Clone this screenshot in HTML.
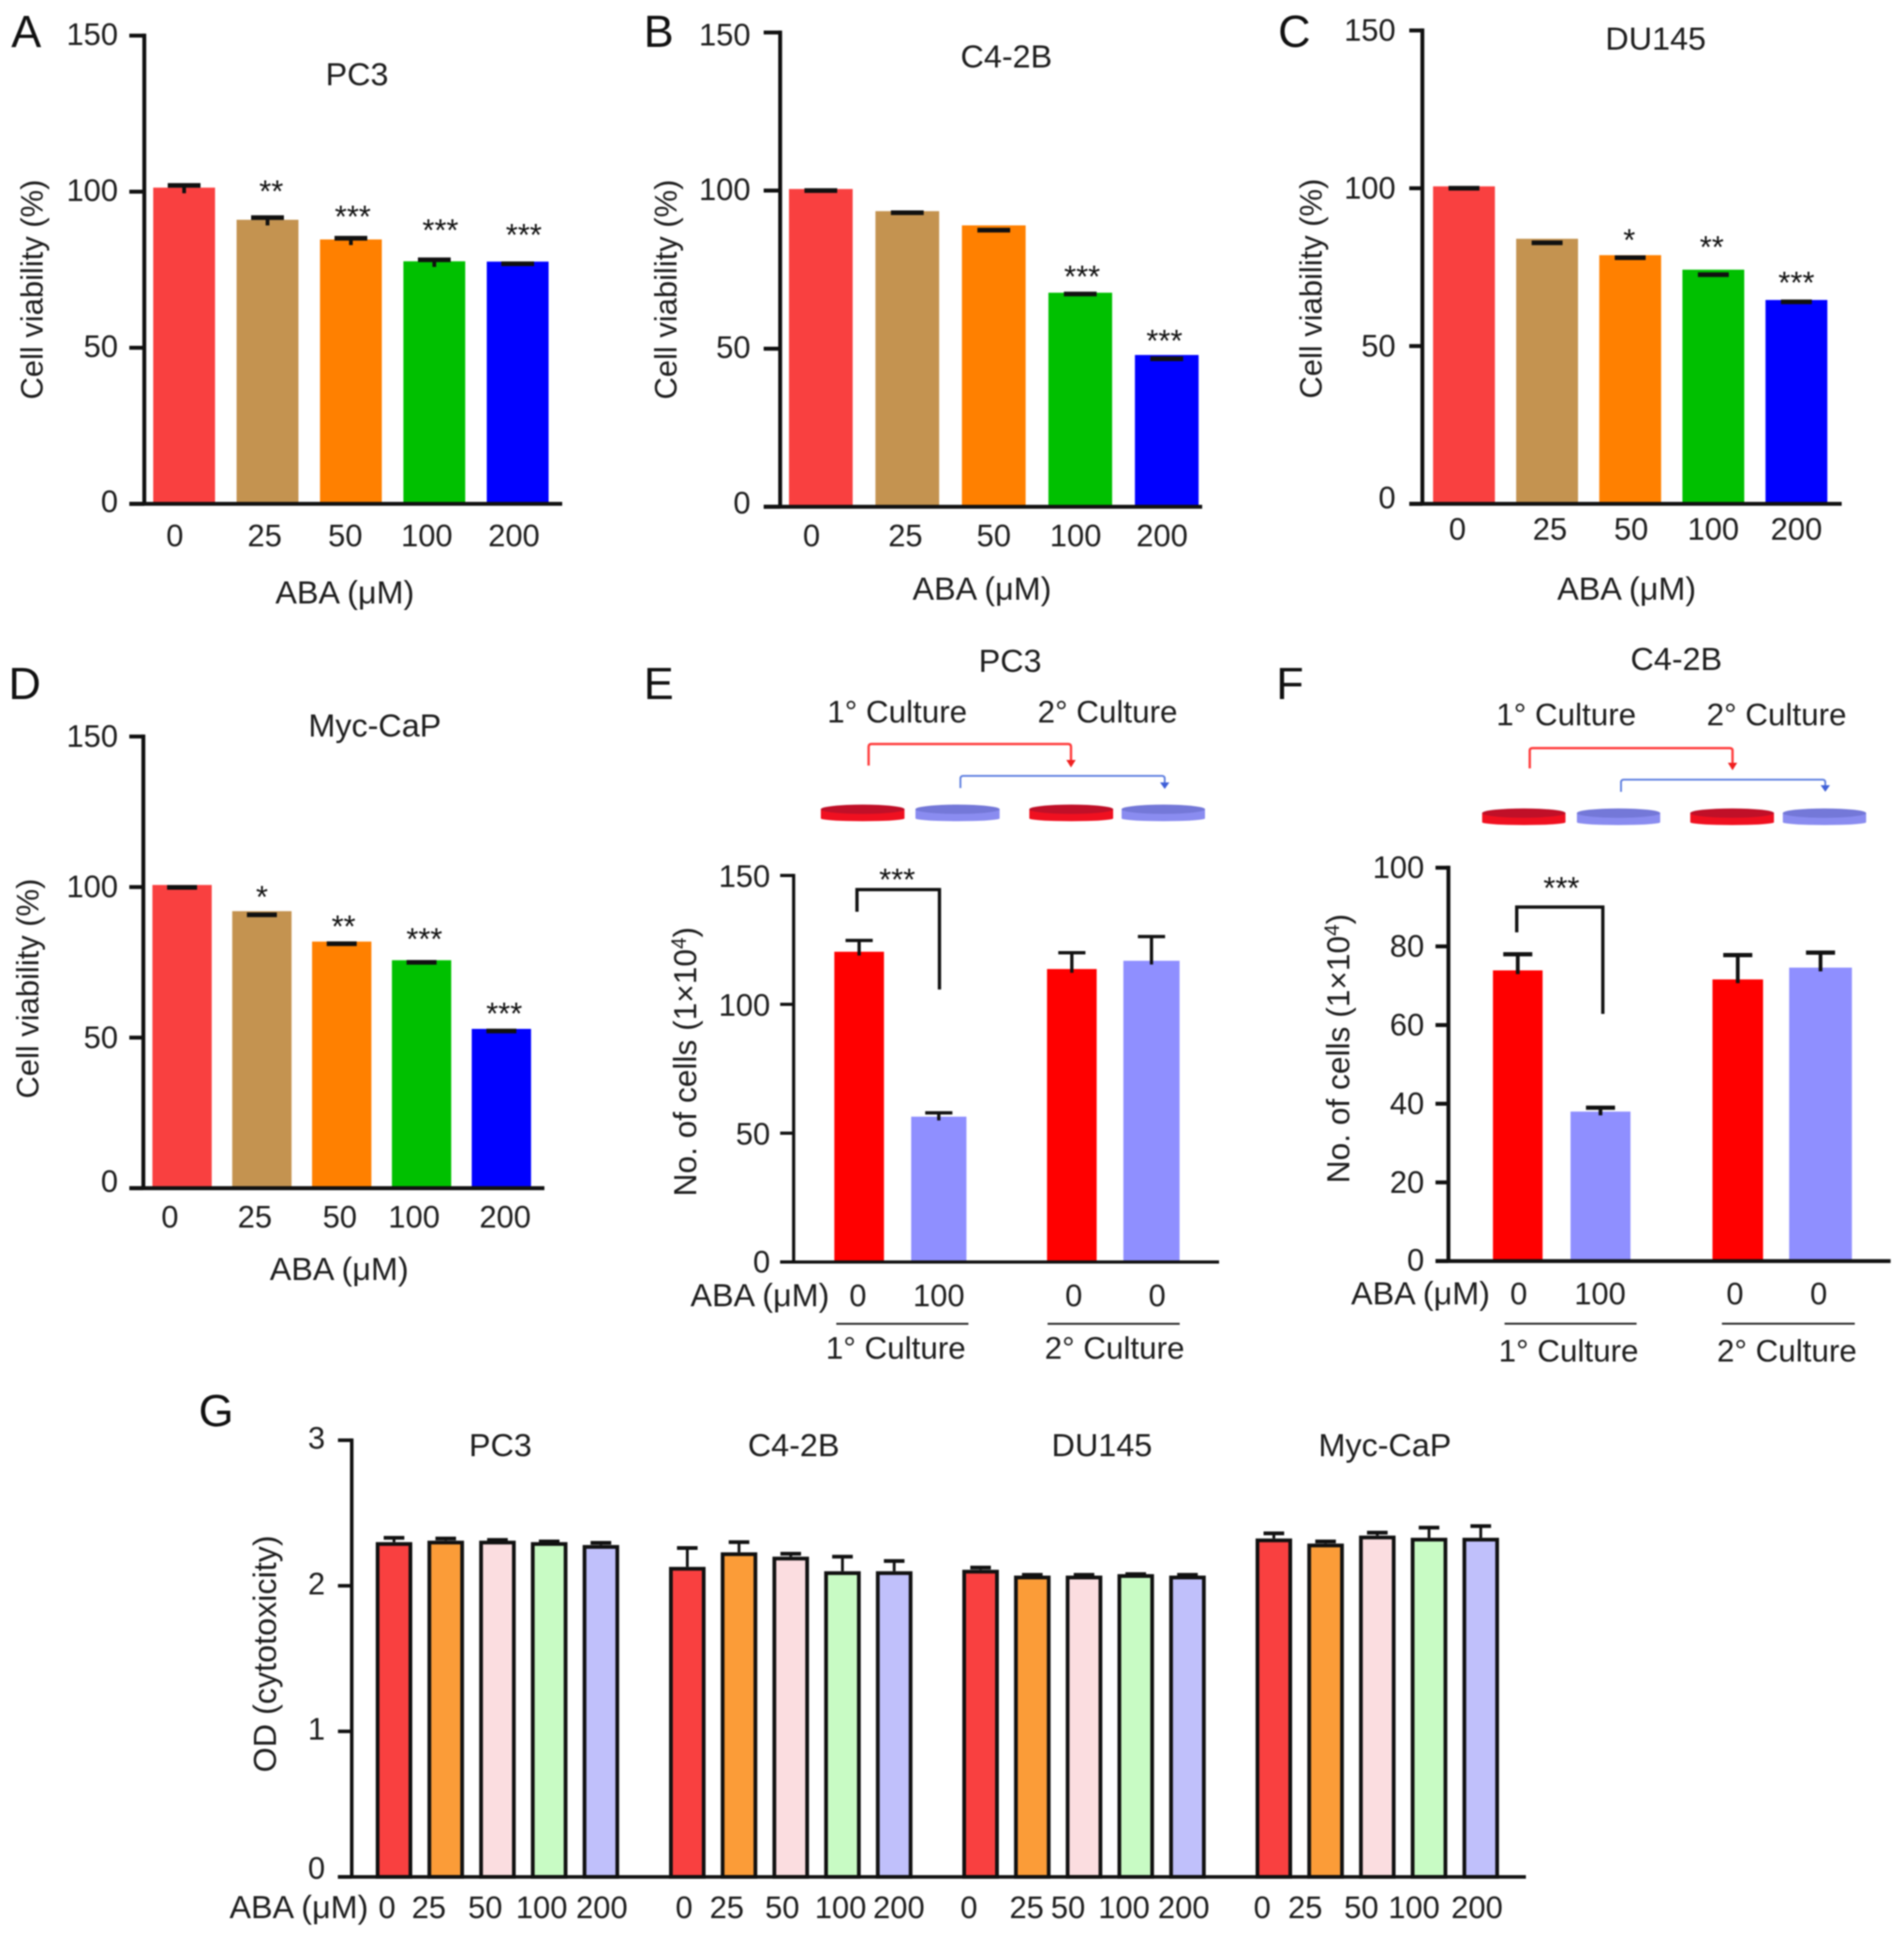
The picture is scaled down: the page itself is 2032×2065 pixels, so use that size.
<!DOCTYPE html>
<html lang="en">
<head>
<meta charset="utf-8">
<title>ABA cell viability figure</title>
<style>
  html, body { margin: 0; padding: 0; background: #fff; }
  svg { display: block; filter: blur(0.7px); }
  text { font-family: "Liberation Sans", Arial, sans-serif; font-size: 33px; fill: #1e1e1e; }
  .letter { font-size: 48px; fill: #111; }
  .mid { text-anchor: middle; }
  .title { font-size: 34.5px; }
  .abal { font-size: 34.5px; }
  .culture { font-size: 33.5px; }
  .ytitle { font-size: 33px; }
  .ytitle-wide { font-size: 33.8px; }
  .star { font-size: 33px; text-anchor: middle; fill: #111; }
</style>
</head>
<body>
<svg id="figure" width="2032" height="2065" viewBox="0 0 2032 2065" xmlns="http://www.w3.org/2000/svg">
  <rect x="0" y="0" width="2032" height="2065" fill="#fff"/>

  <!-- Panel A -->
  <text class="letter" x="12" y="50">A</text>
  <text class="mid title" x="381" y="91">PC3</text>
  <text class="mid ytitle" transform="translate(45.5 309) rotate(-90)">Cell viability (%)</text>
  <text class="mid abal" x="368" y="644">ABA (μM)</text>
  <g id="panel-a"></g>

  <!-- Panel B -->
  <text class="letter" x="687" y="50">B</text>
  <text class="mid title" x="1074" y="72">C4-2B</text>
  <text class="mid ytitle" transform="translate(722 309) rotate(-90)">Cell viability (%)</text>
  <text class="mid abal" x="1048" y="640">ABA (μM)</text>
  <g id="panel-b"></g>

  <!-- Panel C -->
  <text class="letter" x="1364" y="50">C</text>
  <text class="mid title" x="1767" y="53">DU145</text>
  <text class="mid ytitle" transform="translate(1410.5 308) rotate(-90)">Cell viability (%)</text>
  <text class="mid abal" x="1736" y="640">ABA (μM)</text>
  <g id="panel-c"></g>

  <!-- Panel D -->
  <text class="letter" x="9" y="746">D</text>
  <text class="mid title" x="400" y="786">Myc-CaP</text>
  <text class="mid ytitle" transform="translate(41 1055) rotate(-90)">Cell viability (%)</text>
  <text class="mid abal" x="362" y="1366">ABA (μM)</text>
  <g id="panel-d"></g>

  <!-- Panel E -->
  <text class="letter" x="687" y="746">E</text>
  <text class="mid title" x="1078" y="717">PC3</text>
  <text class="mid culture" x="957.5" y="771">1° Culture</text>
  <text class="mid culture" x="1182" y="771">2° Culture</text>
  <path d="M927 817V797Q927 794 930 794H1140Q1143 794 1143 797V812" fill="none" stroke="#ff3b3b" stroke-width="2.5"/>
  <path d="M1138 811H1148L1143 819Z" fill="#f02020"/>
  <path d="M1025 841V831Q1025 828 1028 828H1240Q1243 828 1243 831V836" fill="none" stroke="#6080e0" stroke-width="2"/>
  <path d="M1238 835H1248L1243 842Z" fill="#4060d8"/>
  <g id="panel-e-dishes"></g>
  <text class="mid ytitle-wide" transform="translate(743 1133) rotate(-90)">No. of cells (1×10<tspan dy="-11" font-size="22">4</tspan><tspan dy="11">)</tspan></text>
  <text class="mid abal" x="811" y="1394">ABA (μM)</text>
  <line x1="892.5" x2="1033.5" y1="1412.7" y2="1412.7" stroke="#222" stroke-width="2"/>
  <line x1="1118" x2="1259" y1="1412.7" y2="1412.7" stroke="#222" stroke-width="2"/>
  <text class="mid culture" x="956" y="1450">1° Culture</text>
  <text class="mid culture" x="1189.5" y="1450">2° Culture</text>
  <path d="M914.6 973V949.4H1002.6V1056" fill="none" stroke="#111" stroke-width="3.5"/>
  <text class="star" x="957.5" y="950">***</text>
  <g id="panel-e"></g>

  <!-- Panel F -->
  <text class="letter" x="1362" y="746">F</text>
  <text class="mid title" x="1789" y="715">C4-2B</text>
  <text class="mid culture" x="1671.5" y="774">1° Culture</text>
  <text class="mid culture" x="1896" y="774">2° Culture</text>
  <path d="M1632.6 820V801Q1632.6 798.4 1635.6 798.4H1846Q1849 798.4 1849 801V815" fill="none" stroke="#ff3b3b" stroke-width="2.5"/>
  <path d="M1844 814H1854L1849 822Z" fill="#f02020"/>
  <path d="M1730 845V835Q1730 832 1733 832H1945Q1948 832 1948 835V839" fill="none" stroke="#6080e0" stroke-width="2"/>
  <path d="M1943 838H1953L1948 845Z" fill="#4060d8"/>
  <g id="panel-f-dishes"></g>
  <text class="mid ytitle-wide" transform="translate(1440 1119) rotate(-90)">No. of cells (1×10<tspan dy="-11" font-size="22">4</tspan><tspan dy="11">)</tspan></text>
  <text class="mid abal" x="1516" y="1392">ABA (μM)</text>
  <line x1="1605.7" x2="1746.6" y1="1412.6" y2="1412.6" stroke="#222" stroke-width="2"/>
  <line x1="1837.7" x2="1979.5" y1="1412.6" y2="1412.6" stroke="#222" stroke-width="2"/>
  <text class="mid culture" x="1674" y="1453">1° Culture</text>
  <text class="mid culture" x="1907" y="1453">2° Culture</text>
  <path d="M1618.7 995V968H1710.6V1082" fill="none" stroke="#111" stroke-width="3.5"/>
  <text class="star" x="1666.4" y="959">***</text>
  <g id="panel-f"></g>

  <!-- Panel G -->
  <text class="letter" x="212" y="1522">G</text>
  <text class="mid title" x="534" y="1554">PC3</text>
  <text class="mid title" x="847" y="1554">C4-2B</text>
  <text class="mid title" x="1176" y="1554">DU145</text>
  <text class="mid title" x="1478" y="1554">Myc-CaP</text>
  <text class="mid ytitle-wide" style="font-size:34.5px" transform="translate(294.5 1765) rotate(-90)">OD (cytotoxicity)</text>
  <text class="mid abal" x="319" y="2047">ABA (μM)</text>
  <g id="panel-g"></g>
</svg>

<script>
// ---------- Chart data ----------
const doseLabels = ['0', '25', '50', '100', '200'];
const viabilityTicks = [0, 50, 100, 150];

const panelAValues = [101.3, 91, 84.7, 77.7, 77.6];
const panelACaps = [102, 91.7, 85.1, 78.2, 76.9];
const panelAStars = ['', '**', '***', '***', '***'];

const panelBValues = [100.5, 93.5, 89, 67.7, 48];
const panelBCaps = [100, 93, 87.5, 67.3, 46.8];
const panelBStars = ['', '', '', '***', '***'];

const panelCValues = [100.6, 84, 78.8, 74.2, 64.6];
const panelCCaps = [100, 82.7, 78, 72.6, 64];
const panelCStars = ['', '', '*', '**', '***'];

const panelDValues = [100.7, 92, 81.9, 75.7, 52.9];
const panelDCaps = [99.9, 90.8, 81.2, 75, 52.2];
const panelDStars = ['', '*', '**', '***', '***'];

const cultureLabels = ['0', '100', '0', '0'];
const panelETicks = [0, 50, 100, 150];
const panelEValues = [120.4, 56.4, 113.7, 116.9];
const panelECaps = [124.8, 57.9, 120, 126.3];

const panelFTicks = [0, 20, 40, 60, 80, 100];
const panelFValues = [73.9, 38, 71.6, 74.6];
const panelFCaps = [78, 39, 77.8, 78.4];

const panelGTicks = [0, 1, 2, 3];
const panelGCategories = ['0', '25', '50', '100', '200', '0', '25', '50', '100', '200', '0', '25', '50', '100', '200', '0', '25', '50', '100', '200'];
const panelGValues = [2.30, 2.31, 2.31, 2.30, 2.28, 2.13, 2.23, 2.20, 2.10, 2.10, 2.11, 2.07, 2.07, 2.08, 2.07, 2.325, 2.29, 2.345, 2.33, 2.33];
const panelGCaps = [2.33, 2.325, 2.315, 2.305, 2.295, 2.26, 2.30, 2.22, 2.20, 2.17, 2.125, 2.075, 2.075, 2.08, 2.075, 2.36, 2.305, 2.365, 2.40, 2.41];

// ---------- Styles and layout ----------
const viabilityColors = ['#f94040', '#c49350', '#ff8000', '#00c000', '#0000ff'];
const cultureColors = ['#ff0000', '#8f8fff', '#ff0000', '#8f8fff'];
const cytotoxColors = ['#f94040', '#fb9c38', '#fbdde0', '#c8fbc4', '#c0c0fb'];

const SVG_NS = 'http://www.w3.org/2000/svg';

function shape(tag, parent, attrs) {
  const node = document.createElementNS(SVG_NS, tag);
  Object.keys(attrs).forEach(function (k) { node.setAttribute(k, attrs[k]); });
  parent.appendChild(node);
  return node;
}

function makeYScale(cfg) {
  return function (v) { return cfg.y0 - v * (cfg.y0 - cfg.yTop) / cfg.yMax; };
}
function makeXScale(cfg) {
  return function (i) {
    const groupIndex = cfg.groupSize ? Math.floor(i / cfg.groupSize) : 0;
    return cfg.first + i * cfg.step + groupIndex * (cfg.groupGap || 0);
  };
}

function drawChart(id, cfg, cats, values, caps, ticks, stars) {
  const root = document.getElementById(id);
  const y = makeYScale(cfg);
  const x = makeXScale(cfg);

  values.forEach(function (v, i) {
    const w = cfg.barWidths ? cfg.barWidths[i] : cfg.barWidth;
    const cx = x(i);
    const color = cfg.colors[i % cfg.colors.length];
    const inset = cfg.outline ? cfg.outline / 2 : 0;
    const capY = y(caps[i]);
    const bar = shape('rect', root, {
      x: cx - w / 2 + inset, y: y(v) + inset, width: w - inset * 2, height: cfg.y0 - y(v) - inset,
      fill: color, stroke: cfg.outline ? '#111' : 'none', 'stroke-width': cfg.outline || 0
    });
    
    
    if (caps[i] > v) {
      const stem = shape('line', root, { x1: cx, x2: cx, y1: capY, y2: y(v) + (cfg.stemExtra || 0), stroke: '#111', 'stroke-width': cfg.stemWidth || 3 });
      
      
    }
    const cap = shape('line', root, { x1: cx - cfg.capWidth / 2, x2: cx + cfg.capWidth / 2, y1: capY, y2: capY, stroke: '#111', 'stroke-width': cfg.capStroke });
    
    

    if (stars && stars[i]) {
      const star = shape('text', root, { class: 'star', x: cx + cfg.starDx[i], y: y(v) - cfg.starGap[i] + 17 });
      
      
      star.textContent = stars[i];
    }

    const label = shape('text', root, { class: 'mid', x: cx + cfg.labelDx[i], y: cfg.labelY });
    
    
    label.textContent = cats[i];
  });

  ticks.forEach(function (t, k) {
    const mark = shape('line', root, { x1: cfg.tickLeft, x2: cfg.axisX, y1: y(t), y2: y(t), stroke: '#111', 'stroke-width': cfg.axisWidth });
    
    
    const isTop = k === ticks.length - 1;
    const dy = t === 0 ? cfg.zeroDy : (isTop && cfg.topDy ? cfg.topDy : cfg.tickDy);
    const label = shape('text', root, { x: cfg.tickRight, y: y(t) + dy, 'text-anchor': 'end' });
    
    
    label.textContent = t;
  });

  const yAxis = shape('line', root, { x1: cfg.axisX, x2: cfg.axisX, y1: cfg.yTop - cfg.axisWidth / 2, y2: cfg.y0, stroke: '#111', 'stroke-width': cfg.axisWidth });
  
  
  const xAxis = shape('line', root, { x1: cfg.tickLeft, x2: cfg.xEnd, y1: cfg.y0, y2: cfg.y0, stroke: '#111', 'stroke-width': cfg.axisWidth });
  
  
}

function drawDish(parent, left, right, top, bottom, side, face) {
  const g = shape('g', parent, {});
  
  
  const cx = (left + right) / 2, rx = (right - left) / 2;
  shape('ellipse', g, { cx: cx, cy: bottom - 3, rx: rx, ry: 3, fill: side });
  shape('rect', g, { x: left, y: top + 5, width: right - left, height: bottom - top - 8, fill: side });
  shape('ellipse', g, { cx: cx, cy: top + 5, rx: rx, ry: 5, fill: face });
}

drawChart('panel-a', {
  y0: 537.7, yTop: 38, yMax: 150, axisX: 154, tickLeft: 138, xEnd: 600, axisWidth: 4.2,
  first: 196.5, step: 89, barWidth: 66, colors: viabilityColors,
  capWidth: 35, capStroke: 5, stemWidth: 4, stemExtra: 6,
  tickRight: 126, tickDy: 10, zeroDy: 9, labelY: 583,
  labelDx: [-10, -3, -6, -8, -4], starDx: [0, 4, 2, 6.5, 6.5], starGap: [0, 36, 30, 39, 34]
}, doseLabels, panelAValues, panelACaps, viabilityTicks, panelAStars);

drawChart('panel-b', {
  y0: 540.8, yTop: 34.7, yMax: 150, axisX: 832.6, tickLeft: 815, xEnd: 1283, axisWidth: 4.2,
  first: 876, step: 92.3, barWidth: 68, colors: viabilityColors,
  capWidth: 35, capStroke: 5, stemWidth: 3,
  tickRight: 801, tickDy: 10, topDy: 14, zeroDy: 7, labelY: 583,
  labelDx: [-10, -2, 0, -5, -5], starDx: [0, 0, 0, 2, -2.5], starGap: [0, 0, 0, 23, 21]
}, doseLabels, panelBValues, panelBCaps, viabilityTicks, panelBStars);

drawChart('panel-c', {
  y0: 537.7, yTop: 32.5, yMax: 150, axisX: 1518, tickLeft: 1504, xEnd: 1965.5, axisWidth: 4.2,
  first: 1562.4, step: 88.7, barWidth: 66, colors: viabilityColors,
  capWidth: 33, capStroke: 5, stemWidth: 3,
  tickRight: 1489.5, tickDy: 11, zeroDy: 5, labelY: 576,
  labelDx: [-7, 3, 1, 0, 0], starDx: [0, 0, -1, -1.6, 0], starGap: [0, 0, 22, 30, 24]
}, doseLabels, panelCValues, panelCCaps, viabilityTicks, panelCStars);

drawChart('panel-d', {
  y0: 1268, yTop: 786, yMax: 150, axisX: 153, tickLeft: 138, xEnd: 581, axisWidth: 4.2,
  first: 194.3, step: 85.2, barWidth: 63.3, colors: viabilityColors,
  capWidth: 32, capStroke: 5, stemWidth: 3,
  tickRight: 126, tickDy: 11, zeroDy: 4, labelY: 1310,
  labelDx: [-13, -7.5, -2, -8, 4], starDx: [0, 0, 2, 3, 3], starGap: [0, 21, 22, 28.5, 22]
}, doseLabels, panelDValues, panelDCaps, viabilityTicks, panelDStars);

drawChart('panel-e', {
  y0: 1346.8, yTop: 934.3, yMax: 150, axisX: 847, tickLeft: 832.6, xEnd: 1301, axisWidth: 3.4,
  first: 916.9, step: 85, groupSize: 2, groupGap: 57, barWidths: [53, 59, 53, 60], colors: cultureColors,
  capWidth: 29, capStroke: 3.5, stemWidth: 3.5, stemExtra: 4,
  tickRight: 822, tickDy: 12, zeroDy: 11, labelY: 1394,
  labelDx: [-1.4, 0, 2, 6]
}, cultureLabels, panelEValues, panelECaps, panelETicks, null);

drawChart('panel-f', {
  y0: 1345.8, yTop: 926, yMax: 100, axisX: 1545.8, tickLeft: 1532, xEnd: 2017.7, axisWidth: 4.2,
  first: 1619.8, step: 88.3, groupSize: 2, groupGap: 58.2, barWidths: [53, 64, 54, 67], colors: cultureColors,
  capWidth: 31, capStroke: 4.5, stemWidth: 4, stemExtra: 4,
  tickRight: 1520, tickDy: 11, zeroDy: 10, labelY: 1392,
  labelDx: [1, -0.5, -3, -2]
}, cultureLabels, panelFValues, panelFCaps, panelFTicks, null);

drawChart('panel-g', {
  y0: 2003, yTop: 1537, yMax: 3, axisX: 375.4, tickLeft: 360.7, xEnd: 1628.5, axisWidth: 3.8,
  first: 420.5, step: 55.2, groupSize: 5, groupGap: 37, barWidth: 39, outline: 4, colors: cytotoxColors,
  capWidth: 22, capStroke: 4, stemWidth: 3,
  tickRight: 347, tickDy: 9, zeroDy: 2, labelY: 2047,
  labelDx: [-7.5, -18, -13, -8, 1, -3.5, -13, -9, -2, 5, -12.5, -6, -17, -12.5, -4, -12.5, -21.7, -17, -16, -4]
}, panelGCategories, panelGValues, panelGCaps, panelGTicks, null);

// Culture schema dishes
const eDishes = document.getElementById('panel-e-dishes');
drawDish(eDishes, 876, 965.3, 858.6, 876.4, '#f01020', '#c01028');
drawDish(eDishes, 977, 1066.8, 858.6, 876.4, '#8a8cf0', '#7478d8');
drawDish(eDishes, 1098.5, 1188, 858.6, 876.4, '#f01020', '#c01028');
drawDish(eDishes, 1197, 1286, 858.6, 876.4, '#8a8cf0', '#7478d8');
const fDishes = document.getElementById('panel-f-dishes');
drawDish(fDishes, 1581.8, 1670.7, 862.7, 880.5, '#f01020', '#c01028');
drawDish(fDishes, 1682.9, 1771.8, 862.7, 880.5, '#8a8cf0', '#7478d8');
drawDish(fDishes, 1803.9, 1893.2, 862.7, 880.5, '#f01020', '#c01028');
drawDish(fDishes, 1902.7, 1991.6, 862.7, 880.5, '#8a8cf0', '#7478d8');
</script>
</body>
</html>
